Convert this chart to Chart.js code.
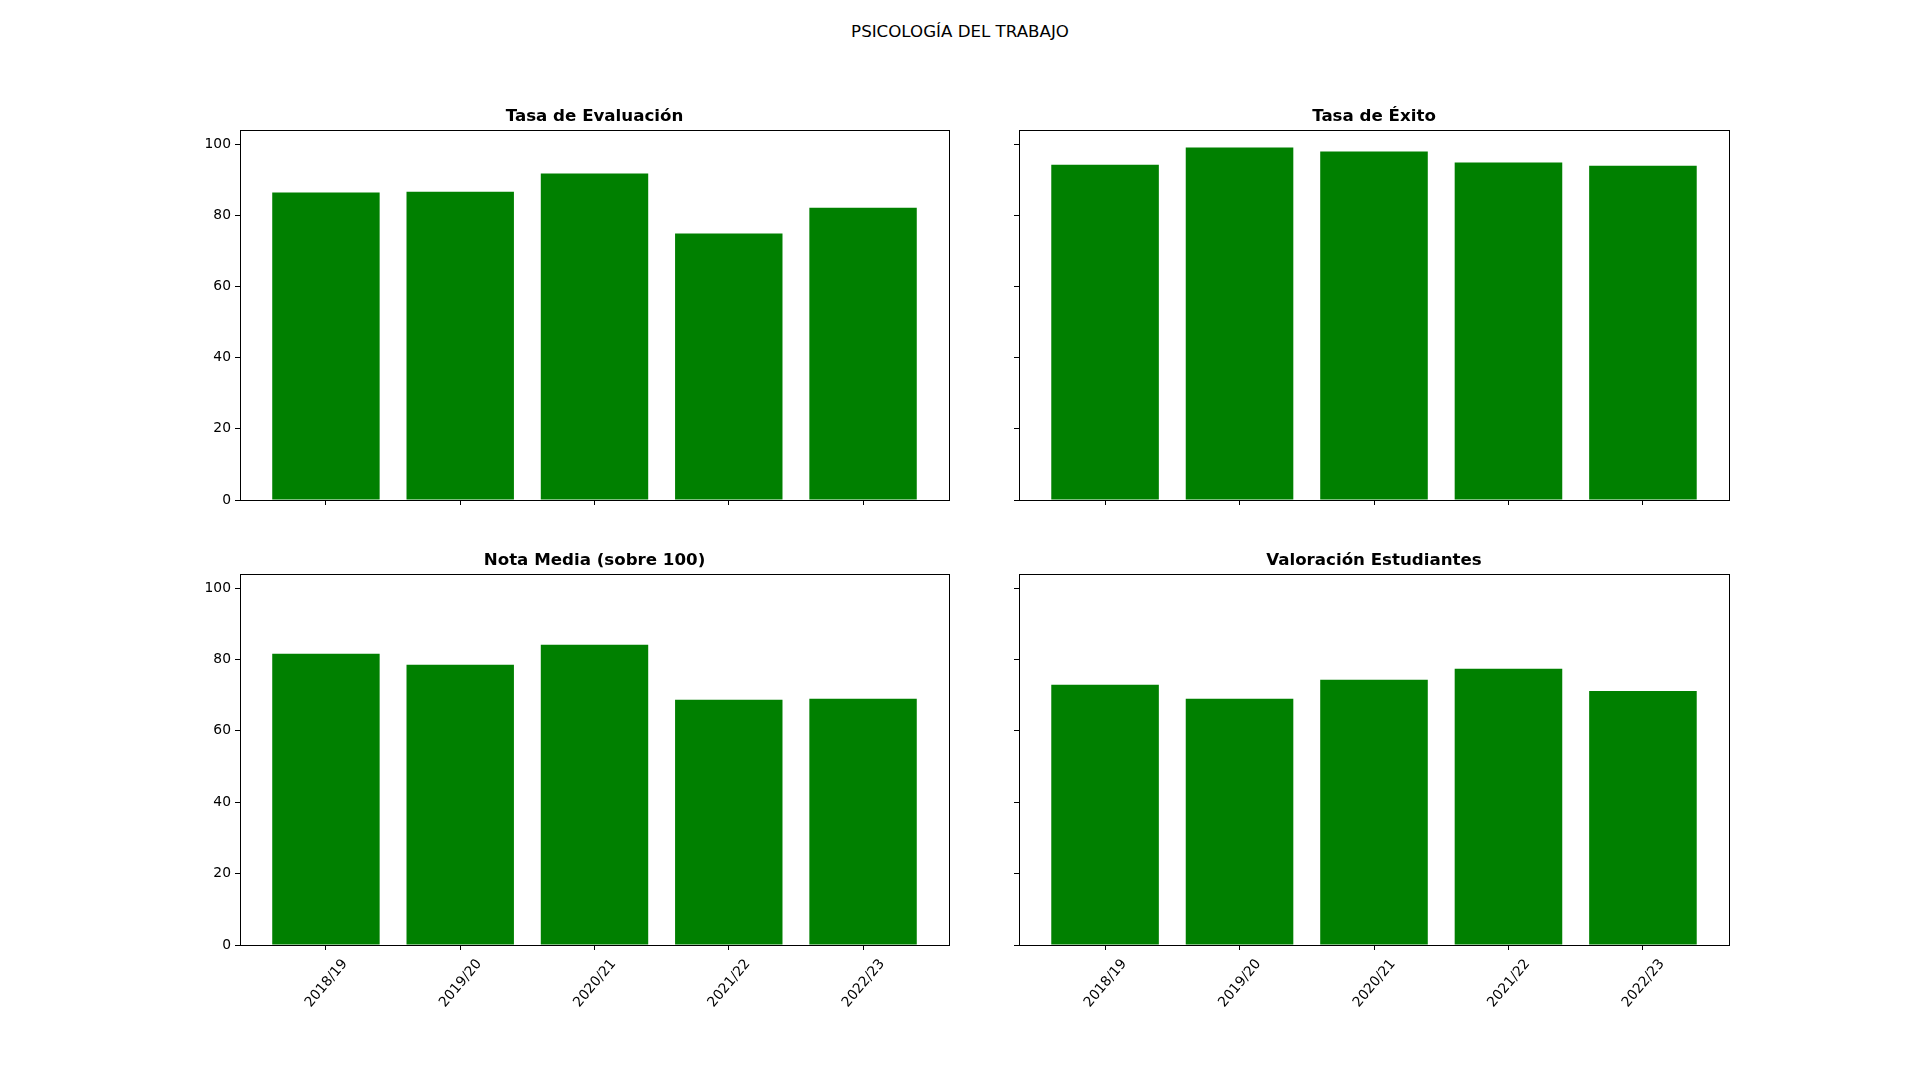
<!DOCTYPE html>
<html>
<head>
<meta charset="utf-8">
<script src="https://cdn.jsdelivr.net/npm/chart.js@4.4.0/dist/chart.umd.min.js"></script>
<style>
  body { margin: 0; width: 1920px; height: 1080px; background: #fff; position: relative; overflow: hidden; font-family: "DejaVu Sans", sans-serif; }
  #suptitle { position: absolute; left: 0; top: 22px; width: 1920px; text-align: center; font-size: 16.67px; line-height: 20px; color: #000; }
  .panel { position: absolute; }
</style>
</head>
<body>
<div id="suptitle">PSICOLOGÍA DEL TRABAJO</div>
<div class="panel" style="left:190px;top:105px;width:809px;height:410px"><canvas id="evaluacion"></canvas></div>
<div class="panel" style="left:969px;top:105px;width:810px;height:410px"><canvas id="exito"></canvas></div>
<div class="panel" style="left:190px;top:549px;width:809px;height:476px"><canvas id="nota"></canvas></div>
<div class="panel" style="left:969px;top:549px;width:810px;height:476px"><canvas id="valoracion"></canvas></div>
<script>
const years = ["2018/19", "2019/20", "2020/21", "2021/22", "2022/23"];
const tasaEvaluacion = [86.4, 86.6, 91.7, 74.9, 82.1];
const tasaExito = [94.2, 99.0, 97.9, 94.8, 93.9];
const notaMedia = [81.6, 78.5, 84.1, 68.7, 69.0];
const valoracionEstudiantes = [72.9, 69.0, 74.3, 77.4, 71.2];
const yTicks = [0, 20, 40, 60, 80, 100];

const FONT = "DejaVu Sans";
const BAR_W = 0.8;
const xPad = 0.05 * (years.length - 1 + BAR_W);
const yMax = 1.05 * Math.max(...tasaEvaluacion, ...tasaExito, ...notaMedia, ...valoracionEstudiantes);

// matplotlib draws a box round each axes
const frame = {
    id: "frame",
    afterDatasetsDraw(chart) {
        const a = chart.chartArea, ctx = chart.ctx;
        ctx.save();
        ctx.strokeStyle = "#000";
        ctx.lineWidth = 1;
        ctx.strokeRect(Math.round(a.left) + 0.5, Math.round(a.top) + 0.5,
            Math.round(a.right - a.left), Math.round(a.bottom - a.top));
        ctx.restore();
    },
};

function makeChart(id, title, values, showX, showY) {
    const tickGrid = { display: true, offset: false, drawOnChartArea: false, drawTicks: true, tickLength: 5, tickColor: "#000", tickWidth: 1 };
    return new Chart(document.getElementById(id), {
        type: "bar",
        data: {
            datasets: [{
                data: values.map((v, i) => ({ x: i, y: v })),
                backgroundColor: "#008000",
                borderWidth: 0,
                barPercentage: BAR_W,
                categoryPercentage: 1,
            }],
        },
        options: {
            responsive: true,
            maintainAspectRatio: false,
            animation: false,
            layout: { padding: 0 },
            plugins: {
                legend: { display: false },
                tooltip: { enabled: false },
                title: {
                    display: true,
                    text: title,
                    color: "#000",
                    font: { family: FONT, size: 16.67, weight: "bold", lineHeight: 1.2 },
                    padding: { top: 2, bottom: 3 },
                },
            },
            scales: {
                x: {
                    type: "linear",
                    offset: false,
                    min: -BAR_W / 2 - xPad,
                    max: years.length - 1 + BAR_W / 2 + xPad,
                    afterBuildTicks: (s) => { s.ticks = years.map((_, i) => ({ value: i })); },
                    afterFit: (s) => { s.height = showX ? 80 : 15; },
                    grid: tickGrid,
                    border: { display: false },
                    ticks: {
                        display: showX,
                        autoSkip: false,
                        minRotation: 50,
                        maxRotation: 50,
                        padding: 6,
                        labelOffset: 19,
                        color: "#000",
                        font: { family: FONT, size: 13.89 },
                        callback: (v) => years[v] ?? "",
                    },
                },
                y: {
                    min: 0,
                    max: yMax,
                    afterBuildTicks: (s) => { s.ticks = yTicks.map((v) => ({ value: v })); },
                    afterFit: (s) => { s.width = 50; },
                    grid: tickGrid,
                    border: { display: false },
                    ticks: {
                        display: showY,
                        padding: 4,
                        color: "#000",
                        font: { family: FONT, size: 13.89 },
                    },
                },
                // empty right axis, keeps the plot centred under its title
                y2: {
                    position: "right",
                    afterFit: (s) => { s.width = 50; },
                    grid: { display: false },
                    border: { display: false },
                    ticks: { display: false },
                },
            },
        },
        plugins: [frame],
    });
}

makeChart("evaluacion", "Tasa de Evaluación", tasaEvaluacion, false, true);
makeChart("exito", "Tasa de Éxito", tasaExito, false, false);
makeChart("nota", "Nota Media (sobre 100)", notaMedia, true, true);
makeChart("valoracion", "Valoración Estudiantes", valoracionEstudiantes, true, false);
</script>
</body>
</html>
